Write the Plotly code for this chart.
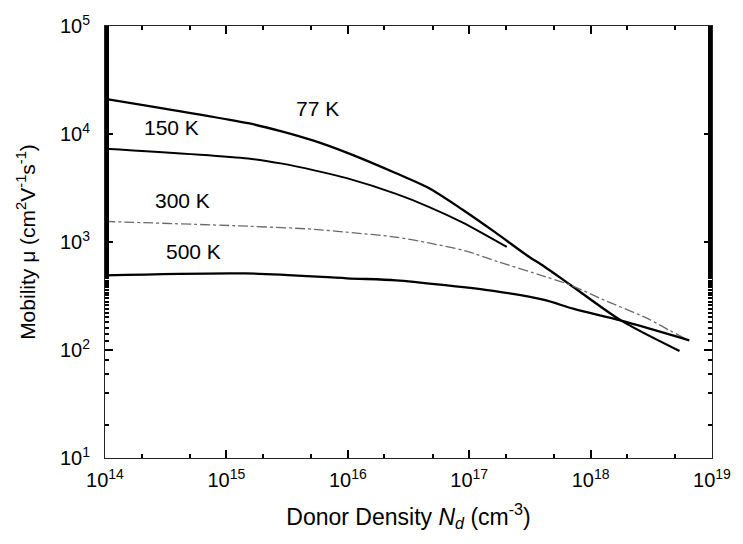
import plotly.graph_objects as go

# Electron mobility vs. donor density at four temperatures
n_77 = [1e14, 1.51e15, 2.8e15, 5.3e15, 9.8e15, 2.5e16, 4.64e16, 8.77e16,
        1.63e17, 3.02e17, 4.15e17, 6.88e17, 1.79e18, 5.4e18]
mu_77 = [21200, 12590, 10650, 8630, 6720, 4330, 3160, 2000,
         1233, 746, 593, 398, 187, 98]

n_150 = [1e14, 1.51e15, 2.8e15, 5.3e15, 9.8e15, 2.5e16, 4.64e16, 8.77e16, 2.04e17]
mu_150 = [7310, 5930, 5340, 4610, 3900, 2790, 2120, 1520, 900]

n_300 = [1e14, 1.51e15, 5.3e15, 9.8e15, 2.5e16, 4.64e16, 9.27e16, 1.72e17,
         4.15e17, 6.88e17, 1.23e18, 2.96e18, 4.47e18, 6.15e18]
mu_300 = [1550, 1400, 1310, 1233, 1110, 980, 828, 658,
          481, 398, 297, 195, 152, 126]

n_500 = [1e14, 1.43e15, 9.8e15, 2.5e16, 6.38e16, 1.63e17, 4.15e17, 7.28e17,
         1.79e18, 6.5e18]
mu_500 = [491, 512, 461, 442, 398, 351, 291, 240, 187, 123]

temp_labels = ["77 K", "150 K", "300 K", "500 K"]

x_tickvals = [1e14, 1e15, 1e16, 1e17, 1e18, 1e19]
x_ticktext = ["10<sup>14</sup>", "10<sup>15</sup>", "10<sup>16</sup>",
              "10<sup>17</sup>", "10<sup>18</sup>", "10<sup>19</sup>"]
y_tickvals = [1e1, 1e2, 1e3, 1e4, 1e5]
y_ticktext = ["10<sup>1</sup>", "10<sup>2</sup>", "10<sup>3</sup>",
              "10<sup>4</sup>", "10<sup>5</sup>"]

FONT = "Liberation Sans, Arial, Helvetica, sans-serif"
INK = "black"

fig = go.Figure()
fig.add_trace(go.Scatter(x=n_77, y=mu_77, mode="lines", name=temp_labels[0],
                         line=dict(color=INK, width=2.3, shape="spline", smoothing=0.8)))
fig.add_trace(go.Scatter(x=n_150, y=mu_150, mode="lines", name=temp_labels[1],
                         line=dict(color=INK, width=1.9, shape="spline", smoothing=0.8)))
fig.add_trace(go.Scatter(x=n_300, y=mu_300, mode="lines", name=temp_labels[2],
                         line=dict(color="#6a6a6a", width=1.3, shape="spline", smoothing=0.8,
                                   dash="10px,3px,3px,3px")))
fig.add_trace(go.Scatter(x=n_500, y=mu_500, mode="lines", name=temp_labels[3],
                         line=dict(color=INK, width=2.3, shape="spline", smoothing=0.8)))

# curve labels (paper coordinates inside the plotting area)
label_pos = [(0.3496, 0.809), (0.109, 0.766), (0.127, 0.596), (0.146, 0.478)]
for txt, (px, py) in zip(temp_labels, label_pos):
    fig.add_annotation(x=px, y=py, xref="paper", yref="paper", text=txt,
                       xanchor="center", yanchor="middle", showarrow=False,
                       font=dict(family=FONT, size=21, color=INK))

axis_common = dict(
    type="log", showline=True, mirror="allticks",
    ticks="inside", ticklen=8, tickwidth=2, tickcolor="black",
    tickfont=dict(family=FONT, size=20, color=INK),
    minor=dict(ticks="inside", ticklen=4, tickcolor="black"),
)

fig.update_layout(
    template="simple_white",
    width=743, height=544,
    margin=dict(l=105, r=23, t=18, b=86),
    showlegend=False,
    xaxis=dict(**axis_common, range=[14, 19],
               tickvals=x_tickvals, ticktext=x_ticktext, ticklabelstandoff=4,
               title=dict(text="Donor Density <i>N<sub>d</sub></i> (cm<sup>-3</sup>)",
                          font=dict(family=FONT, size=23, color=INK),
                          standoff=18)),
    yaxis=dict(**axis_common, range=[1, 5],
               tickvals=y_tickvals, ticktext=y_ticktext, ticklabelstandoff=10,
               title=dict(text="Mobility \u03bc (cm<sup>2</sup>V<sup>-1</sup>s<sup>-1</sup>)",
                          font=dict(family=FONT, size=21, color=INK),
                          standoff=18)),
)

fig.write_html("out.html")
